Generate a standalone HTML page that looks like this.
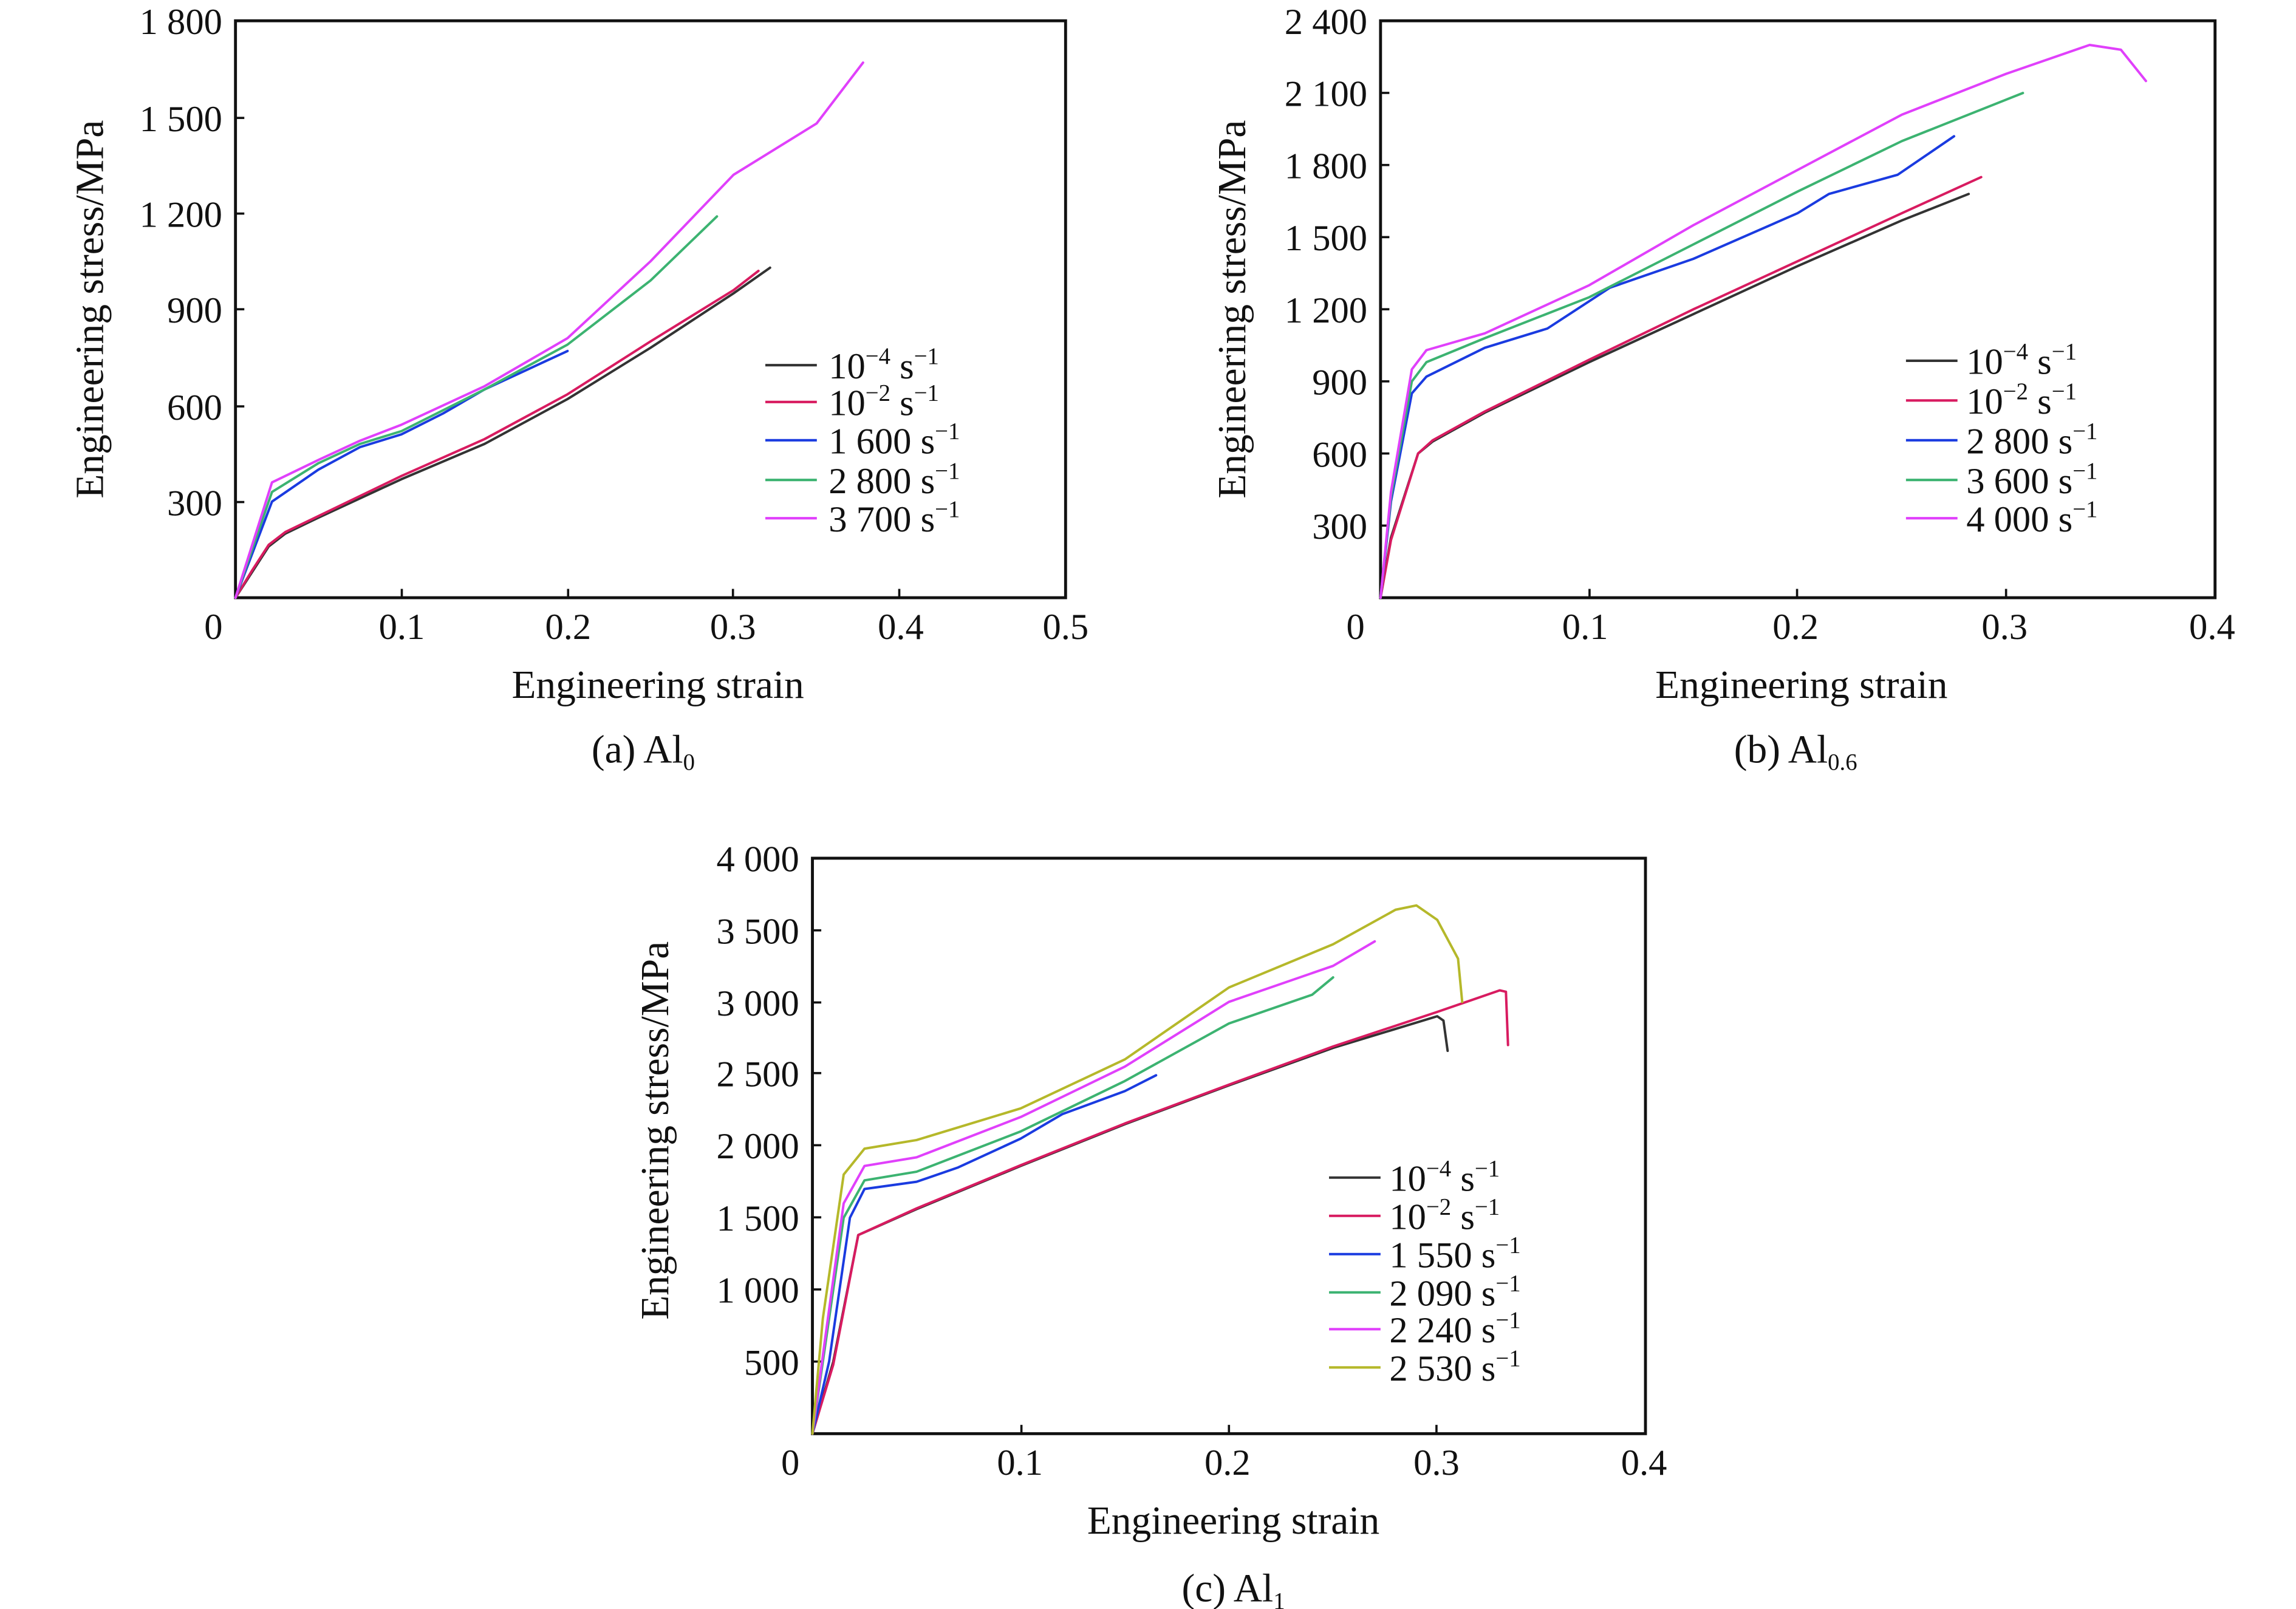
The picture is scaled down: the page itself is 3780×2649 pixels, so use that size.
<!DOCTYPE html>
<html><head><meta charset="utf-8"><style>
html,body{margin:0;padding:0;background:#fff}
svg{display:block}
text{font-family:"Liberation Serif",serif;fill:#111}
.t{font-size:25px}
.g{font-size:25px}
.l{font-size:27px}
.ax{fill:none;stroke:#111;stroke-width:2}
.c{fill:none;stroke-width:4;vector-effect:non-scaling-stroke;stroke-linejoin:round;stroke-linecap:round}
</style></head><body>
<svg width="3780" height="2649" viewBox="0 0 1560 1093" xmlns="http://www.w3.org/2000/svg">
<rect width="1560" height="1093" fill="#fff"/>

<!-- Panel a -->
<rect class="ax" x="160" y="14" width="564" height="392"/>
<g stroke="#111" stroke-width="1.5">
<line x1="273" y1="406" x2="273" y2="400"/><line x1="386" y1="406" x2="386" y2="400"/><line x1="498" y1="406" x2="498" y2="400"/><line x1="611" y1="406" x2="611" y2="400"/>
<line x1="160" y1="341" x2="166" y2="341"/><line x1="160" y1="276" x2="166" y2="276"/><line x1="160" y1="210" x2="166" y2="210"/><line x1="160" y1="145" x2="166" y2="145"/><line x1="160" y1="80" x2="166" y2="80"/>
</g>
<g class="t" text-anchor="middle">
<text x="145" y="434">0</text><text x="273" y="434">0.1</text><text x="386" y="434">0.2</text><text x="498" y="434">0.3</text><text x="612" y="434">0.4</text><text x="724" y="434">0.5</text>
</g>
<g class="t" text-anchor="end">
<text x="151" y="350">300</text><text x="151" y="285">600</text><text x="151" y="219">900</text><text x="151" y="154">1 200</text><text x="151" y="89">1 500</text><text x="151" y="23">1 800</text>
</g>
<text class="l" x="447" y="474" text-anchor="middle">Engineering strain</text>
<text class="l" transform="translate(70,210) rotate(-90)" text-anchor="middle">Engineering stress/MPa</text>
<text class="l" x="437" y="518" text-anchor="middle">(a) Al<tspan font-size="16" dy="5">0</tspan></text>
<g transform="translate(160,406) scale(1.128,-0.2177)">
<path class="c" stroke="#333" d="M0,0 L10,80 20,160 30,200 50,250 100,370 150,480 200,620 250,780 300,950 322,1030"/>
<path class="c" stroke="#d81b60" d="M0,0 L10,85 20,165 30,205 50,255 100,380 150,495 200,635 250,800 300,960 315,1020"/>
<path class="c" stroke="#1a3be0" d="M0,0 L22,300 50,400 75,470 100,510 125,575 150,650 175,710 200,770"/>
<path class="c" stroke="#3cb371" d="M0,0 L22,330 50,420 75,480 100,520 150,650 200,790 250,990 290,1190"/>
<path class="c" stroke="#e040fb" d="M0,0 L22,360 50,430 75,490 100,540 150,660 200,810 250,1050 300,1320 350,1480 378,1670"/>
</g>
<g class="g">
<line x1="520" y1="248" x2="555" y2="248" stroke="#333" stroke-width="1.7"/><text x="563" y="257">10<tspan font-size="16" dy="-10">−4</tspan><tspan dy="10"> s</tspan><tspan font-size="16" dy="-10">−1</tspan></text>
<line x1="520" y1="273" x2="555" y2="273" stroke="#d81b60" stroke-width="1.7"/><text x="563" y="282">10<tspan font-size="16" dy="-10">−2</tspan><tspan dy="10"> s</tspan><tspan font-size="16" dy="-10">−1</tspan></text>
<line x1="520" y1="299" x2="555" y2="299" stroke="#1a3be0" stroke-width="1.7"/><text x="563" y="308">1 600 s<tspan font-size="16" dy="-10">−1</tspan></text>
<line x1="520" y1="326" x2="555" y2="326" stroke="#3cb371" stroke-width="1.7"/><text x="563" y="335">2 800 s<tspan font-size="16" dy="-10">−1</tspan></text>
<line x1="520" y1="352" x2="555" y2="352" stroke="#e040fb" stroke-width="1.7"/><text x="563" y="361">3 700 s<tspan font-size="16" dy="-10">−1</tspan></text>
</g>

<!-- Panel b -->
<rect class="ax" x="938" y="14" width="567" height="392"/>
<g stroke="#111" stroke-width="1.5">
<line x1="1080" y1="406" x2="1080" y2="400"/><line x1="1221" y1="406" x2="1221" y2="400"/><line x1="1363" y1="406" x2="1363" y2="400"/>
<line x1="938" y1="357" x2="944" y2="357"/><line x1="938" y1="308" x2="944" y2="308"/><line x1="938" y1="259" x2="944" y2="259"/><line x1="938" y1="210" x2="944" y2="210"/><line x1="938" y1="161" x2="944" y2="161"/><line x1="938" y1="112" x2="944" y2="112"/><line x1="938" y1="63" x2="944" y2="63"/>
</g>
<g class="t" text-anchor="middle">
<text x="921" y="434">0</text><text x="1077" y="434">0.1</text><text x="1220" y="434">0.2</text><text x="1362" y="434">0.3</text><text x="1503" y="434">0.4</text>
</g>
<g class="t" text-anchor="end">
<text x="929" y="366">300</text><text x="929" y="317">600</text><text x="929" y="268">900</text><text x="929" y="219">1 200</text><text x="929" y="170">1 500</text><text x="929" y="121">1 800</text><text x="929" y="72">2 100</text><text x="929" y="23">2 400</text>
</g>
<text class="l" x="1224" y="474" text-anchor="middle">Engineering strain</text>
<text class="l" transform="translate(846,210) rotate(-90)" text-anchor="middle">Engineering stress/MPa</text>
<text class="l" x="1220" y="518" text-anchor="middle">(b) Al<tspan font-size="16" dy="5">0.6</tspan></text>
<g transform="translate(938,406) scale(1.417,-0.1633)">
<path class="c" stroke="#333" d="M0,0 L5,250 18,600 25,650 50,770 100,980 150,1180 200,1380 250,1570 282,1680"/>
<path class="c" stroke="#d81b60" d="M0,0 L5,240 18,600 25,655 50,775 100,990 150,1200 200,1400 250,1600 288,1750"/>
<path class="c" stroke="#1a3be0" d="M0,0 L5,400 15,850 22,920 50,1040 80,1120 110,1290 150,1410 200,1600 215,1680 248,1760 275,1920"/>
<path class="c" stroke="#3cb371" d="M0,0 L5,420 15,900 22,980 50,1080 100,1250 150,1470 200,1690 250,1900 308,2100"/>
<path class="c" stroke="#e040fb" d="M0,0 L5,440 15,950 22,1030 50,1100 100,1300 150,1550 200,1780 250,2010 300,2180 340,2300 355,2280 367,2150"/>
</g>
<g class="g">
<line x1="1295" y1="245" x2="1330" y2="245" stroke="#333" stroke-width="1.7"/><text x="1336" y="254">10<tspan font-size="16" dy="-10">−4</tspan><tspan dy="10"> s</tspan><tspan font-size="16" dy="-10">−1</tspan></text>
<line x1="1295" y1="272" x2="1330" y2="272" stroke="#d81b60" stroke-width="1.7"/><text x="1336" y="281">10<tspan font-size="16" dy="-10">−2</tspan><tspan dy="10"> s</tspan><tspan font-size="16" dy="-10">−1</tspan></text>
<line x1="1295" y1="299" x2="1330" y2="299" stroke="#1a3be0" stroke-width="1.7"/><text x="1336" y="308">2 800 s<tspan font-size="16" dy="-10">−1</tspan></text>
<line x1="1295" y1="326" x2="1330" y2="326" stroke="#3cb371" stroke-width="1.7"/><text x="1336" y="335">3 600 s<tspan font-size="16" dy="-10">−1</tspan></text>
<line x1="1295" y1="352" x2="1330" y2="352" stroke="#e040fb" stroke-width="1.7"/><text x="1336" y="361">4 000 s<tspan font-size="16" dy="-10">−1</tspan></text>
</g>

<!-- Panel c -->
<rect class="ax" x="552" y="583" width="566" height="391"/>
<g stroke="#111" stroke-width="1.5">
<line x1="694" y1="974" x2="694" y2="968"/><line x1="835" y1="974" x2="835" y2="968"/><line x1="976" y1="974" x2="976" y2="968"/>
<line x1="552" y1="925" x2="558" y2="925"/><line x1="552" y1="876" x2="558" y2="876"/><line x1="552" y1="827" x2="558" y2="827"/><line x1="552" y1="778" x2="558" y2="778"/><line x1="552" y1="729" x2="558" y2="729"/><line x1="552" y1="681" x2="558" y2="681"/><line x1="552" y1="632" x2="558" y2="632"/>
</g>
<g class="t" text-anchor="middle">
<text x="537" y="1002">0</text><text x="693" y="1002">0.1</text><text x="834" y="1002">0.2</text><text x="976" y="1002">0.3</text><text x="1117" y="1002">0.4</text>
</g>
<g class="t" text-anchor="end">
<text x="543" y="934">500</text><text x="543" y="885">1 000</text><text x="543" y="836">1 500</text><text x="543" y="787">2 000</text><text x="543" y="738">2 500</text><text x="543" y="690">3 000</text><text x="543" y="641">3 500</text><text x="543" y="592">4 000</text>
</g>
<text class="l" x="838" y="1042" text-anchor="middle">Engineering strain</text>
<text class="l" transform="translate(454,768) rotate(-90)" text-anchor="middle">Engineering stress/MPa</text>
<text class="l" x="838" y="1088" text-anchor="middle">(c) Al<tspan font-size="16" dy="5">1</tspan></text>
<g transform="translate(552,974) scale(1.415,-0.0978)">
<path class="c" stroke="#333" d="M0,0 L10,500 22,1380 50,1560 100,1860 150,2150 200,2420 250,2680 300,2900 303,2870 305,2660"/>
<path class="c" stroke="#d81b60" d="M0,0 L10,480 22,1380 50,1565 100,1865 150,2155 200,2425 250,2690 300,2930 330,3080 333,3070 334,2700"/>
<path class="c" stroke="#1a3be0" d="M0,0 L8,500 18,1500 25,1700 50,1750 70,1850 100,2050 120,2220 150,2380 165,2490"/>
<path class="c" stroke="#3cb371" d="M0,0 L6,600 15,1500 25,1760 50,1820 100,2100 150,2450 200,2850 240,3050 250,3170"/>
<path class="c" stroke="#e040fb" d="M0,0 L6,650 15,1600 25,1860 50,1920 100,2200 150,2550 200,3000 250,3250 270,3420"/>
<path class="c" stroke="#b5b82a" d="M0,0 L5,800 15,1800 25,1980 50,2040 100,2260 150,2600 200,3100 250,3400 280,3640 290,3670 300,3570 310,3300 312,3000"/>
</g>
<g class="g">
<line x1="903" y1="800" x2="938" y2="800" stroke="#333" stroke-width="1.7"/><text x="944" y="809">10<tspan font-size="16" dy="-10">−4</tspan><tspan dy="10"> s</tspan><tspan font-size="16" dy="-10">−1</tspan></text>
<line x1="903" y1="826" x2="938" y2="826" stroke="#d81b60" stroke-width="1.7"/><text x="944" y="835">10<tspan font-size="16" dy="-10">−2</tspan><tspan dy="10"> s</tspan><tspan font-size="16" dy="-10">−1</tspan></text>
<line x1="903" y1="852" x2="938" y2="852" stroke="#1a3be0" stroke-width="1.7"/><text x="944" y="861">1 550 s<tspan font-size="16" dy="-10">−1</tspan></text>
<line x1="903" y1="878" x2="938" y2="878" stroke="#3cb371" stroke-width="1.7"/><text x="944" y="887">2 090 s<tspan font-size="16" dy="-10">−1</tspan></text>
<line x1="903" y1="903" x2="938" y2="903" stroke="#e040fb" stroke-width="1.7"/><text x="944" y="912">2 240 s<tspan font-size="16" dy="-10">−1</tspan></text>
<line x1="903" y1="929" x2="938" y2="929" stroke="#b5b82a" stroke-width="1.7"/><text x="944" y="938">2 530 s<tspan font-size="16" dy="-10">−1</tspan></text>
</g>
</svg>
</body></html>
